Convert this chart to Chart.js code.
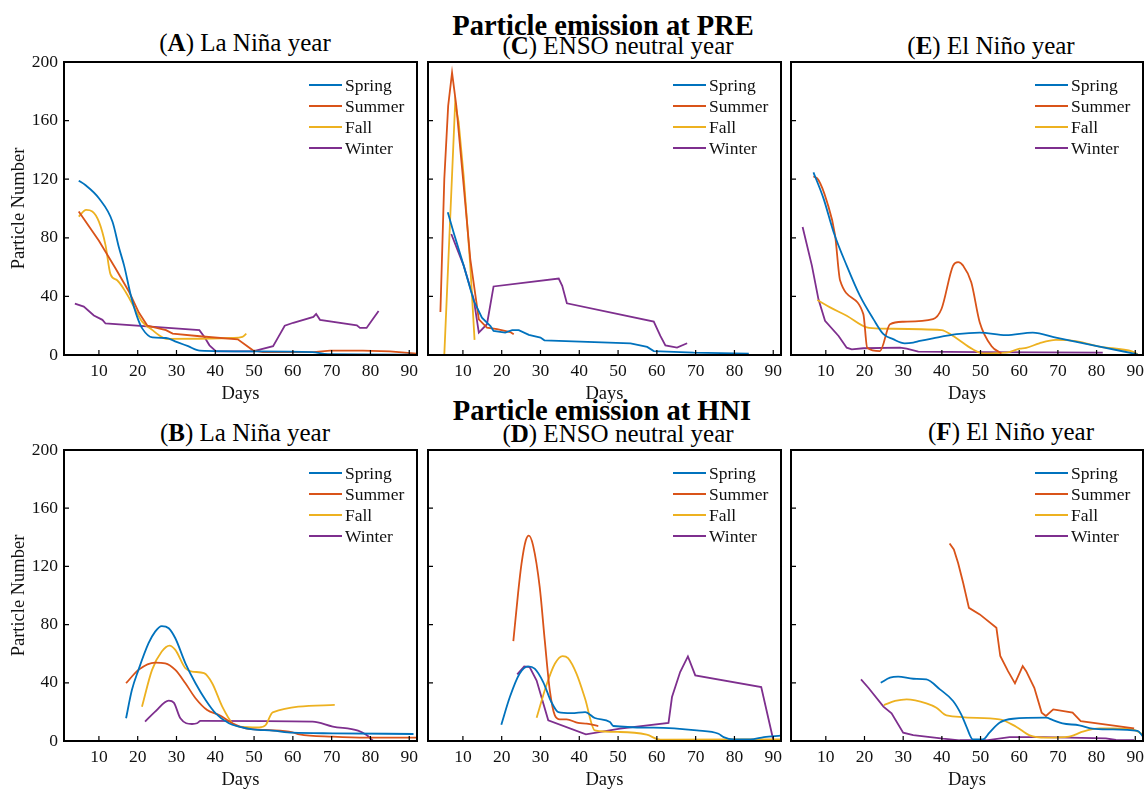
<!DOCTYPE html>
<html>
<head>
<meta charset="utf-8">
<script src="https://cdn.jsdelivr.net/npm/chart.js@4.4.1/dist/chart.umd.min.js"></script>
<style>
body { margin:0; width:1144px; height:789px; overflow:hidden; background:#fff; position:relative;
       font-family:"Liberation Serif","Times New Roman",serif; }
canvas { position:absolute; }
.sup { position:absolute; font-weight:bold; font-size:28.5px; line-height:1; white-space:nowrap; transform:translateX(-50%); }
.ttl { position:absolute; font-size:25px; line-height:1; white-space:nowrap; transform:translateX(-50%); }
</style>
</head>
<body>
<div class="ttl" style="left:245px;top:30px">(<b>A</b>) La Niña year</div>
<div class="ttl" style="left:618px;top:32.5px">(<b>C</b>) ENSO neutral year</div>
<div class="ttl" style="left:991px;top:32.5px">(<b>E</b>) El Niño year</div>
<div class="sup" style="left:603px;top:12px">Particle emission at PRE</div>
<div class="ttl" style="left:245px;top:420px">(<b>B</b>) La Niña year</div>
<div class="ttl" style="left:618px;top:420.5px">(<b>D</b>) ENSO neutral year</div>
<div class="ttl" style="left:1011px;top:419px">(<b>F</b>) El Niño year</div>
<div class="sup" style="left:602px;top:397px">Particle emission at HNI</div>
<script>
// tick labels and series names
var xTicks = [10, 20, 30, 40, 50, 60, 70, 80, 90];
var yTicks = [0, 40, 80, 120, 160, 200];
var seasons = ['Spring', 'Summer', 'Fall', 'Winter'];

// (A) PRE, La Nina  -- [day, particles]
var aSpring = [[4.8,119],[6.5,116],[10,107],[13.5,91],[15.2,73],[16.5,61],[18.2,41],[20,25],[21.2,18],[23.8,12],[27.3,11.6],[30,9],[33,6],[36,3],[50,2.5],[65,2],[69,0.5],[91,0.3]];
var aSummer = [[4.8,98],[10,78],[14.3,59],[17.8,43],[20.3,29],[22.5,20],[27.3,17],[29,14.6],[36,12.8],[45.8,10.7],[49.7,3.2],[52.3,2],[65.3,2],[69.6,3],[78,3],[85,2.5],[92,1]];
var aFall = [[4.8,94.5],[6.7,99],[8.3,98],[10,91],[11.7,75],[13,55],[14.7,51],[16.9,43],[18.6,35],[21.2,22.6],[23.8,17],[25.5,13.5],[27.3,11],[44.5,11.6],[47,12.3],[48,14.6]];
var aWinter = [[3.8,35],[6.1,33],[8.7,27],[10.9,24],[11.7,21.5],[35.9,17],[37.2,12.3],[38.5,6.6],[40.2,2.5],[49.7,2.5],[54.9,6],[56.2,12],[57.9,20],[60.1,22],[65.3,26],[66,28],[67,24],[76.5,20.3],[77.3,18.5],[79,18.5],[80.4,23.7],[82.1,30]];

// (C) PRE, ENSO neutral
var cSpring = [[6.1,97.4],[7.6,83.7],[10.2,61],[12.8,37],[14.9,25.5],[17.1,19.8],[17.9,16.4],[20.9,15.3],[22.7,17],[24.4,17],[27,13.7],[30,11.9],[31,10],[53.2,8],[57.5,5.5],[59.2,2.7],[62.6,2.3],[69.5,1.6],[83.7,1]];
var cSummer = [[4.2,29.4],[5.2,120],[6.2,170],[7.2,192.7],[8.3,170],[10.2,115.6],[11.9,65.5],[14.1,24.4],[16.2,18.7],[18.8,17.6],[22.2,15.7],[23.1,14.1]];
var cFall = [[5.2,0],[8,172],[8.9,159],[10.2,122],[11.9,61],[13,10.3]];
var cWinter = [[7,82.6],[10.2,61],[12.8,38],[14.1,15.3],[16.2,21],[17.9,46.8],[34.7,52.2],[35.6,47.2],[36.8,35.3],[59.2,22.8],[60.9,13],[62.2,6.6],[65.2,5],[67.8,8]];

// (E) PRE, El Nino
var eSpring = [[6.8,124.7],[9.4,106.9],[12,84],[15.4,61],[18.8,40.5],[22.3,24.5],[24.9,14.2],[27.4,10.8],[30.4,8],[32.6,8.5],[34.3,9.6],[37.7,11.4],[43.8,14.2],[49.8,15.3],[56.6,13.5],[63.5,15.3],[69.5,11.9],[79.8,6.2],[90.6,0.5]];
var eSummer = [[6.8,122],[8.1,119.5],[10.3,104.6],[12.4,81.7],[13.7,50.8],[19.7,27.9],[20.7,5],[24,2.7],[26.6,21],[30,22.7],[37.7,24.5],[39.9,31.4],[42.9,61],[44.2,63.4],[45.5,61],[47.6,49.7],[49.8,22.2],[52.8,6.2],[55.4,1.1]];
var eFall = [[7.8,37.5],[11.1,32.5],[15.4,26.8],[20.6,18.8],[24,18],[39.9,17],[42.9,13],[48,3.9],[50.6,1.1],[56.6,1.6],[60.1,4.3],[61.8,4.8],[65.2,8],[69.5,10.3],[74.7,9.4],[80.7,5.7],[89.3,2.3],[90.6,0.5]];
var eWinter = [[4,87.4],[6.4,61],[8.1,38],[9.8,23.3],[13.3,13],[15.4,5],[16.7,3.9],[19.7,4.6],[29.2,5],[30.9,4.3],[33.9,2.3],[49.8,2],[81.6,1.6]];

// (B) HNI, La Nina
var bSpring = [[17,15.6],[18.5,35],[20.2,48.9],[22.8,67.2],[24.5,75.2],[26.2,79],[28,77.5],[29.7,70.6],[32.3,53.4],[34.9,39.7],[37.5,28.2],[40.1,19],[43.5,12.2],[46.1,9.9],[49.6,8],[54.8,7.1],[59.9,5.7],[70.3,5.3],[91.1,4.8]];
var bSummer = [[17,39.7],[20.2,48.9],[24.5,53.9],[27.1,53.4],[29.7,48.9],[32.3,39.7],[34.9,29.4],[37.9,21.3],[41,17.9],[44.4,12.2],[47.9,8.7],[53,7.6],[59.9,6],[61.7,4.6],[70.3,3],[79,2.3],[92,2.3]];
var bFall = [[21.1,23.6],[23.7,48.9],[26.2,61.5],[28.2,65.6],[29.7,62.6],[32.3,50],[34,47.7],[37.1,46.6],[39.2,39.7],[41.8,23.6],[44.4,12.2],[46.1,9.9],[51.3,9.4],[53,11],[54.8,19.7],[70.8,24.8]];
var bWinter = [[21.9,13.3],[24.5,20.2],[28,27.8],[29.3,26.4],[31,15.6],[34,11.7],[35.3,12.2],[36.2,13.8],[65.1,13.3],[70.3,9.9],[76.8,7.1],[79,4.1],[80.7,0]];

// (D) HNI, ENSO neutral
var dSpring = [[19.9,11.2],[22.1,30.2],[24.6,46.2],[26.8,51.3],[28.5,49.7],[30.7,40.5],[32.8,26.8],[34.6,19.9],[38,19.2],[41.5,19.9],[44,15.8],[47.9,13],[48.8,10.3],[59.1,9.2],[70.3,7.3],[75.9,5],[77.2,2.7],[79.8,1.1],[84.1,1.1],[87.6,2.7],[91.9,3.7]];
var dSummer = [[23,68.6],[24.2,101],[25.1,121.7],[26.2,137.8],[27,141.2],[28.1,134.3],[29.8,105.7],[31.1,69.1],[32.4,34.8],[33.7,17.6],[35,14.9],[36.7,14.9],[39.7,12.4],[41.9,11.9],[44.9,10.3]];
var dFall = [[29,16],[31.5,38.2],[33.7,53.1],[35.7,58.4],[37.1,57],[39.3,46.2],[41.5,29.1],[44,7.3],[50.5,6.2],[57.4,4.3],[60.9,0.9],[91.9,1.1]];
var dWinter = [[24,45.8],[25.8,51.3],[27.2,50.8],[29,41.6],[32,14.2],[41.7,4.6],[50.5,8.5],[63,12.4],[63.9,30.2],[66,47.4],[68,58.1],[69.9,45.1],[86.9,37.1],[90,0.9]];

// (F) HNI, El Nino
var fSpring = [[24.2,40],[26.6,43.5],[28.7,44.2],[32.6,42.8],[36,42.3],[39.5,35.5],[42.9,27.5],[45,18.3],[46.3,10.3],[48,1.1],[50.6,1.1],[52.3,5.7],[54.9,12.6],[58.4,15.3],[66.9,16],[68.7,14.4],[71.2,12.1],[75.5,10.8],[78.9,8.5],[83.3,8],[90.6,6.9],[91.9,3.4]];
var fSummer = [[42,135.7],[43.1,131.6],[44.2,122.4],[45.5,108.7],[47,91.5],[49.8,87],[54.1,77.8],[55.1,58.4],[57.1,48],[58.9,39.6],[60.9,51.5],[61.8,48],[63.9,36.6],[65.8,19.5],[66.9,17.2],[68.8,21.7],[73.8,19.5],[75.9,13.7],[89.7,8.7]];
var fFall = [[25,24.7],[27.9,27.5],[30.9,28.6],[36,25.9],[38.6,22.9],[41.2,17.6],[54.9,14.9],[59.2,9.8],[62.7,3.9],[66.9,2.3],[72.9,3],[74.7,4.6],[76.4,6.4],[80.7,8.7],[84.2,8.7],[89.3,8],[92,4.6]];
var fWinter = [[19.1,42.3],[21,36.6],[24.9,23.6],[27,19],[30,5.7],[32.6,4.1],[40.3,1.6],[44.6,0.5],[51.5,0.5],[57.5,2.7],[66.1,2.7],[72.9,2.3],[82.4,1.8],[85,0.7],[89.7,0.5]];

// matlab default line colours
var colors = ['#0072BD', '#D95319', '#EDB120', '#7E2F8E'];
var serif = '"Liberation Serif","Times New Roman",serif';

// these ones look piecewise straight in the figure, the rest are smoothed
var straightSeries = [aSummer, aWinter, cSpring, cSummer, cFall, cWinter, eWinter, dWinter, fSummer, fWinter];

var colLeft = [64, 428, 791], colRight = [417, 781, 1143];
var rowTop = [62, 450], rowBottom = [355, 741];

var panels = [
  {col:0, row:0, series:[aSpring, aSummer, aFall, aWinter]},
  {col:1, row:0, series:[cSpring, cSummer, cFall, cWinter]},
  {col:2, row:0, series:[eSpring, eSummer, eFall, eWinter]},
  {col:0, row:1, series:[bSpring, bSummer, bFall, bWinter]},
  {col:1, row:1, series:[dSpring, dSummer, dFall, dWinter]},
  {col:2, row:1, series:[fSpring, fSummer, fFall, fWinter]}
];

// box, inward ticks and legend inside the axes (matlab look)
var framePlugin = {
  id: 'frame',
  afterDatasetsDraw: function(chart) {
    var a = chart.chartArea, ctx = chart.ctx;
    var xs = chart.scales.x, ys = chart.scales.y;
    ctx.save();
    ctx.strokeStyle = '#000';
    ctx.lineWidth = 1.2;
    ctx.beginPath();
    xTicks.forEach(function(v) {
      var p = xs.getPixelForValue(v);
      ctx.moveTo(p, a.bottom); ctx.lineTo(p, a.bottom - 5);
    });
    yTicks.forEach(function(v) {
      var p = ys.getPixelForValue(v);
      ctx.moveTo(a.left, p); ctx.lineTo(a.left + 5, p);
    });
    ctx.stroke();
    ctx.lineWidth = 2;
    ctx.strokeRect(a.left, a.top, a.right - a.left, a.bottom - a.top);

    // legend
    ctx.font = '17.5px ' + serif;
    ctx.textBaseline = 'middle';
    ctx.textAlign = 'left';
    chart.data.datasets.forEach(function(ds, i) {
      var y = a.top + 23 + 21 * i;
      var x0 = a.right - 108;
      ctx.strokeStyle = ds.borderColor;
      ctx.lineWidth = 2;
      ctx.beginPath();
      ctx.moveTo(x0, y); ctx.lineTo(x0 + 33, y);
      ctx.stroke();
      ctx.fillStyle = '#111';
      ctx.fillText(ds.label, x0 + 36, y + 1);
    });
    ctx.restore();
  }
};

panels.forEach(function(p) {
  var yW = p.col === 0 ? 64 : 4;
  var areaW = colRight[p.col] - colLeft[p.col];
  var areaH = rowBottom[p.row] - rowTop[p.row];
  var cv = document.createElement('canvas');
  cv.width = yW + areaW + 6;
  cv.height = 12 + areaH + 50;
  cv.style.left = (colLeft[p.col] - yW) + 'px';
  cv.style.top = (rowTop[p.row] - 12) + 'px';
  document.body.appendChild(cv);

  var datasets = p.series.map(function(s, i) {
    var straight = straightSeries.indexOf(s) >= 0;
    return {
      label: seasons[i],
      data: s.map(function(d) { return {x: d[0], y: d[1]}; }),
      borderColor: colors[i],
      backgroundColor: colors[i],
      borderWidth: 1.8,
      pointRadius: 0,
      fill: false,
      tension: 0,
      cubicInterpolationMode: straight ? 'default' : 'monotone'
    };
  });

  new Chart(cv, {
    type: 'line',
    data: {datasets: datasets},
    plugins: [framePlugin],
    options: {
      responsive: false,
      animation: false,
      layout: {padding: {top: 12, right: 6, left: 0, bottom: 0}},
      plugins: {legend: {display: false}, tooltip: {enabled: false}},
      scales: {
        x: {
          type: 'linear', min: 1, max: 92,
          grid: {display: false, drawTicks: false},
          border: {display: false},
          afterBuildTicks: function(s) { s.ticks = xTicks.map(function(v) { return {value: v}; }); },
          afterFit: function(s) { s.height = 50; s.paddingLeft = 0; s.paddingRight = 0; },
          ticks: {color: '#111', font: {family: serif, size: 17.5}, padding: 6, maxRotation: 0, autoSkip: false},
          title: {display: true, text: 'Days', color: '#111', font: {family: serif, size: 18.5}, padding: {top: 0, bottom: 0}}
        },
        y: {
          type: 'linear', min: 0, max: 200,
          grid: {display: false, drawTicks: false},
          border: {display: false},
          afterBuildTicks: function(s) { s.ticks = yTicks.map(function(v) { return {value: v}; }); },
          afterFit: function(s) { s.width = yW; s.paddingTop = 0; s.paddingBottom = 0; },
          ticks: {display: p.col === 0, color: '#111', font: {family: serif, size: 17.5}, padding: 6},
          title: {display: p.col === 0, text: 'Particle Number', color: '#111', font: {family: serif, size: 18.5}, padding: {top: 8, bottom: 0}}
        }
      }
    }
  });
});
</script>
</body>
</html>
